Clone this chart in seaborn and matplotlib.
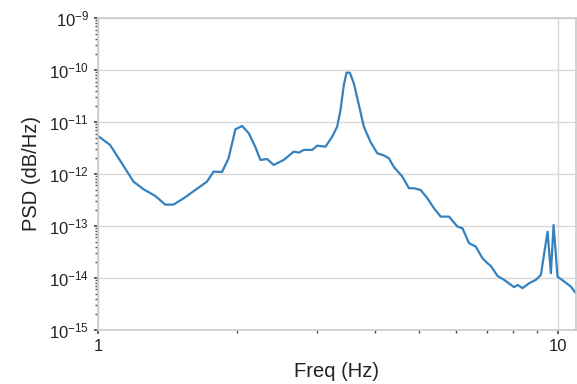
import matplotlib
matplotlib.use("Agg")
import matplotlib.pyplot as plt
import seaborn as sns
import pandas as pd
from matplotlib.ticker import LogLocator, NullFormatter, FixedLocator

freq = [1.00, 1.062, 1.126, 1.194, 1.255, 1.331, 1.400, 1.459, 1.547, 1.627,
        1.725, 1.783, 1.860, 1.922, 1.989, 2.057, 2.126, 2.198, 2.254, 2.331,
        2.409, 2.533, 2.664, 2.732, 2.802, 2.922, 2.996, 3.123, 3.229, 3.311,
        3.367, 3.423, 3.470, 3.528, 3.599, 3.691, 3.784, 3.913, 4.048, 4.184,
        4.290, 4.399, 4.589, 4.743, 4.863, 5.029, 5.201, 5.376, 5.560, 5.797,
        6.047, 6.200, 6.409, 6.628, 6.853, 7.028, 7.145, 7.390, 7.638, 8.031,
        8.170, 8.377, 8.660, 8.954, 9.183, 9.495, 9.654, 9.786, 9.98, 10.32,
        10.67, 10.94]
psd = [5.38e-12, 3.61e-12, 1.61e-12, 7.11e-13, 5.08e-13, 3.78e-13, 2.57e-13, 2.57e-13, 3.56e-13, 4.92e-13,
       7.11e-13, 1.11e-12, 1.09e-12, 2.00e-12, 7.24e-12, 8.38e-12, 6.07e-12, 3.30e-12, 1.86e-12, 1.94e-12,
       1.49e-12, 1.86e-12, 2.69e-12, 2.57e-12, 2.90e-12, 2.90e-12, 3.50e-12, 3.35e-12, 5.21e-12, 8.13e-12,
       1.70e-11, 5.15e-11, 8.87e-11, 8.87e-11, 5.55e-11, 2.12e-11, 8.13e-12, 4.12e-12, 2.50e-12, 2.27e-12,
       2.00e-12, 1.36e-12, 8.87e-13, 5.31e-13, 5.31e-13, 4.92e-13, 3.41e-13, 2.19e-13, 1.51e-13, 1.51e-13,
       9.70e-14, 9.03e-14, 4.65e-14, 4.00e-14, 2.39e-14, 1.92e-14, 1.70e-14, 1.09e-14, 9.16e-15, 6.62e-15,
       7.33e-15, 6.34e-15, 7.91e-15, 9.16e-15, 1.14e-14, 7.76e-14, 1.23e-14, 1.04e-13, 1.06e-14, 8.49e-15,
       6.81e-15, 5.08e-15]

x_label = "Freq (Hz)"
y_label = "PSD (dB/Hz)"
y_ticks = [1e-15, 1e-14, 1e-13, 1e-12, 1e-11, 1e-10, 1e-9]

sns.set_theme(style="whitegrid", rc={
    "xtick.bottom": True, "ytick.left": True,
    "xtick.major.size": 3, "ytick.major.size": 3,
    "xtick.minor.size": 2, "ytick.minor.size": 2,
    "xtick.color": ".3", "ytick.color": ".3",
    "axes.edgecolor": ".8",
})
plt.rcParams["font.family"] = ["Liberation Sans", "DejaVu Sans"]

df = pd.DataFrame({"freq": freq, "psd": psd})

fig = plt.figure(figsize=(5.77, 3.84), dpi=100)
ax = fig.add_axes([0.170, 0.141, 0.828, 0.812])
sns.lineplot(data=df, x="freq", y="psd", ax=ax, color="#3481bf", linewidth=1.6)
ax.set_xscale("log")
ax.set_yscale("log")
ax.set_xlim(1, 10.94)
ax.set_ylim(1e-15, 1e-9)
ax.set_xticks([1, 10])
ax.set_xticklabels(["1", "10"])
ax.xaxis.set_minor_locator(FixedLocator([2, 3, 4, 5, 6, 7, 8, 9]))
ax.xaxis.set_minor_formatter(NullFormatter())
ax.yaxis.set_major_locator(FixedLocator(y_ticks))
ax.yaxis.set_minor_locator(LogLocator(base=10, subs=range(2, 10), numticks=20))
ax.yaxis.set_minor_formatter(NullFormatter())
ax.grid(True, which="major", color=".85", linewidth=1)
ax.grid(False, which="minor")
ax.tick_params(axis="both", which="major", labelsize=12, labelcolor="#222222")
ax.set_xlabel(x_label, fontsize=14.5, color="#222222", labelpad=6)
ax.set_ylabel(y_label, fontsize=14.5, color="#222222", labelpad=6)
for s in ax.spines.values():
    s.set_visible(True)
    s.set_color(".8")

fig.savefig("out.png", dpi=100)
